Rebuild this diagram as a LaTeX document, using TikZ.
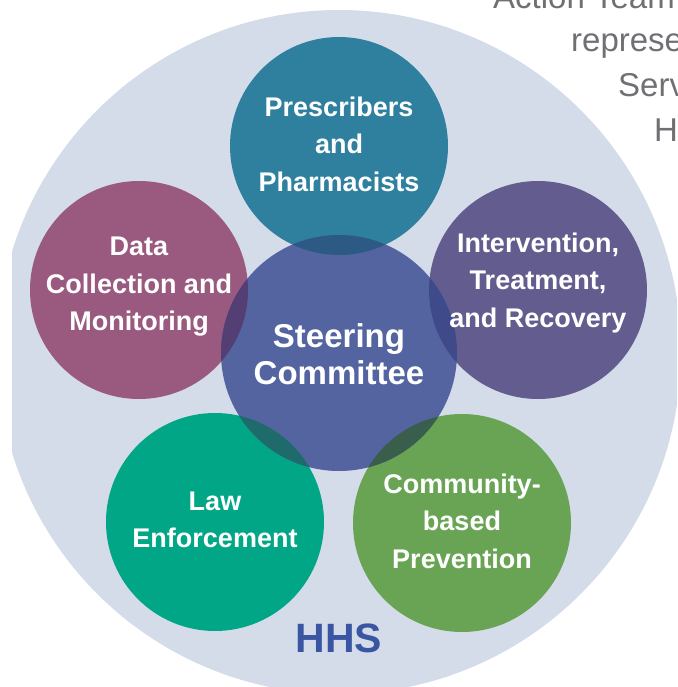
\documentclass[tikz,border=0pt]{standalone}
\usepackage{fontspec}
\setmainfont{Liberation Sans}
\usetikzlibrary{%
  calc%
}
\definecolor{hhsbg}{HTML}{D5DCE9}
\definecolor{presccol}{HTML}{2E809E}
\definecolor{datacol}{HTML}{9A5A80}
\definecolor{intercol}{HTML}{635C8E}
\definecolor{lawcol}{HTML}{00A686}
\definecolor{commcol}{HTML}{69A454}
\definecolor{steercol}{HTML}{5464A0}
\definecolor{hhscol}{HTML}{3A56A3}
\definecolor{greytext}{HTML}{6F7073}

\begin{document}
\begin{tikzpicture}[x=1pt,y=-1pt,
  disc/.style={circle,inner sep=0pt,minimum size=218pt},
  lbl/.style={align=center,text=white,inner sep=0pt,font=\fontsize{27}{37.5}\selectfont\bfseries},
  side/.style={anchor=base west,text=greytext,inner sep=0pt,font=\fontsize{33}{40}\selectfont}]
\useasboundingbox (0,0) rectangle (677,687);
% HHS background
\begin{scope}
\clip (12,0) rectangle (677,687);
\fill[hhsbg] (339,352) circle (342);
\end{scope}
% surrounding text
\begin{scope}
\clip (0,0) rectangle (677,687);
\node[side] (txt1) at (493,9) {Action Team};
\node[side] (txt2) at (571,52) {represe};
\node[side] (txt3) at (618,97) {Serv};
\node[side] (txt4) at (654,142) {H};
\end{scope}
% the circles
\node[disc,fill=presccol] (presc) at (339,146) {};
\node[disc,fill=datacol] (data) at (139,290) {};
\node[disc,fill=intercol] (inter) at (538,290) {};
\node[disc,fill=lawcol] (law) at (215,522) {};
\node[disc,fill=commcol] (comm) at (462,523) {};
\node[disc,fill=steercol,minimum size=236pt] (steer) at (339,353) {};
% overlaps
\begin{scope}
\clip (steer.center) circle (118);
\fill[fill={rgb,255:red,44;green,90;blue,132}] (presc.center) circle (109);
\fill[fill={rgb,255:red,83;green,63;blue,116}] (data.center) circle (109);
\fill[fill={rgb,255:red,62;green,74;blue,137}] (inter.center) circle (109);
\fill[fill={rgb,255:red,31;green,107;blue,107}] (law.center) circle (109);
\fill[fill={rgb,255:red,58;green,94;blue,76}] (comm.center) circle (109);
\end{scope}
% labels
\node[lbl] (prescT) at (339,144) {Prescribers\\and\\Pharmacists};
\node[lbl] (dataT) at (139,287) {Data\\Collection and\\Monitoring};
\node[lbl] (interT) at (538,283) {Intervention,\\Treatment,\\and Recovery};
\node[lbl] (lawT) at (215,520) {Law\\Enforcement};
\node[lbl] (commT) at (462,521) {Community-\\based\\Prevention};
\node[lbl,font=\fontsize{33}{37}\selectfont\bfseries] (steerT) at (339,354) {Steering\\Committee};
\node[font=\fontsize{41}{48}\selectfont\bfseries,text=hhscol] (hhs) at (339,638) {HHS};
\end{tikzpicture}
\end{document}
